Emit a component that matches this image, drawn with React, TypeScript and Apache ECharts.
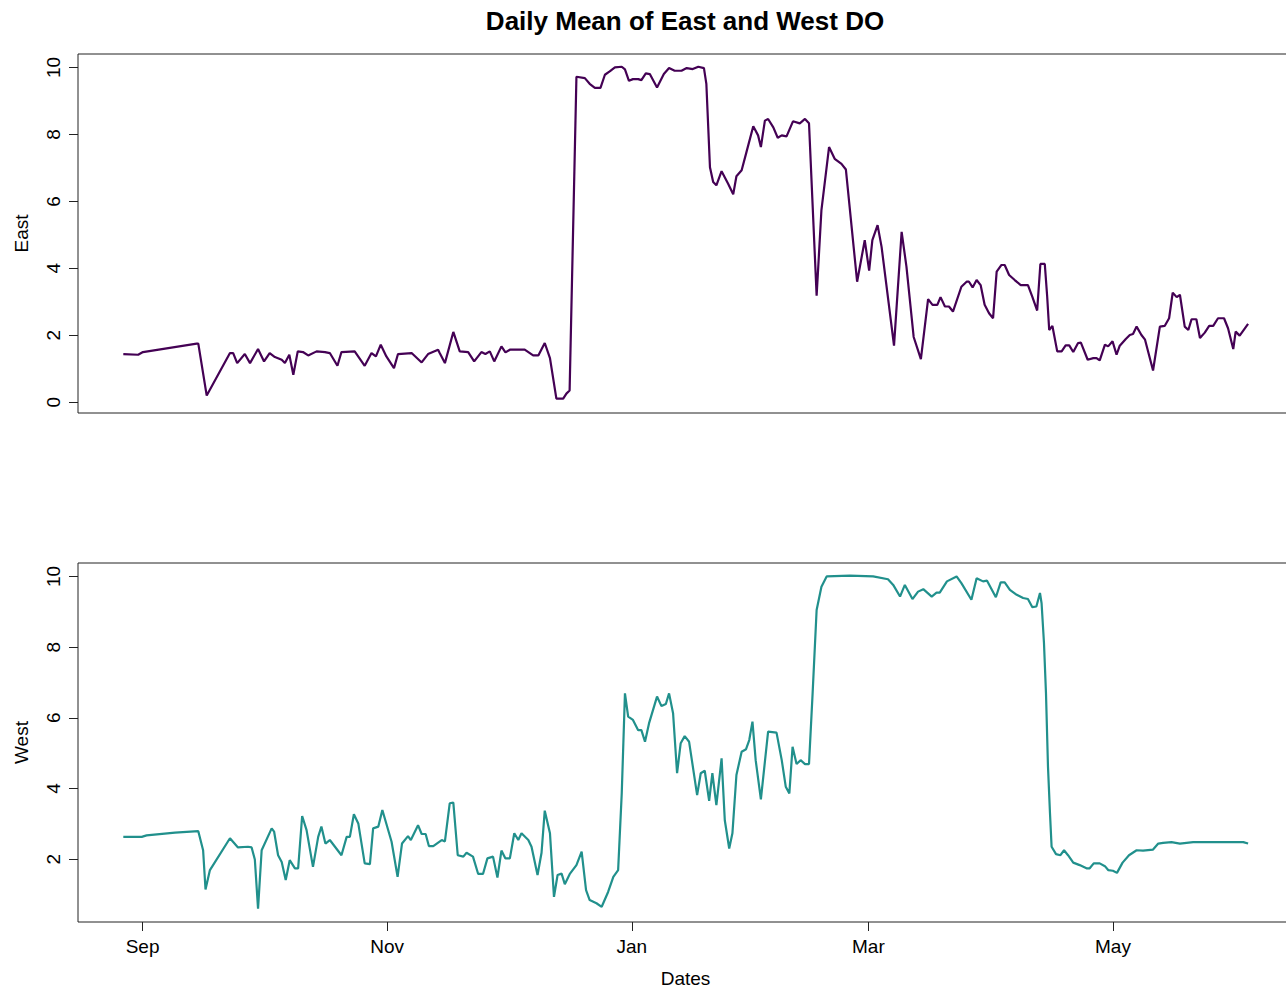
import React, { useEffect, useRef } from "react";
import * as echarts from "echarts";

// x values are days since 1 September (fractional)
const monthTickDays = [0, 61, 122, 181, 242];
const monthTickLabels = ["Sep", "Nov", "Jan", "Mar", "May"];
const eastTicks = [0, 2, 4, 6, 8, 10];
const westTicks = [2, 4, 6, 8, 10];

const eastDays = [
  -4.8, -1.1, 0.1, 13.5, 13.9, 16.0, 21.8, 22.6, 23.6, 25.5,
  26.8, 28.8, 30.3, 31.7, 33.0, 34.7, 35.5, 36.6, 37.6, 38.7,
  40.0, 41.3, 43.4, 45.5, 46.7, 48.6, 49.6, 52.9, 55.4, 57.1,
  58.2, 59.4, 60.8, 62.7, 63.7, 67.1, 69.6, 71.2, 73.7, 74.1,
  75.4, 77.5, 79.1, 81.2, 82.7, 84.5, 85.5, 86.6, 87.7, 89.5,
  90.5, 91.6, 95.3, 97.4, 98.7, 100.3, 101.6, 103.2, 104.9, 105.7,
  106.5, 108.2, 110.3, 111.5, 112.8, 114.2, 115.3, 116.5, 117.8, 119.5,
  120.3, 121.3, 122.3, 123.6, 124.4, 125.5, 126.5, 128.3, 130.0, 131.3,
  132.7, 134.4, 135.7, 137.2, 138.6, 140.0, 140.6, 141.5, 142.3, 143.1,
  144.4, 146.0, 147.3, 148.1, 149.4, 150.6, 152.3, 153.5, 154.2, 155.2,
  156.0, 157.3, 158.4, 159.4, 160.6, 162.2, 163.9, 165.2, 166.2, 168.1,
  169.3, 171.2, 172.6, 174.3, 175.4, 178.2, 180.1, 181.2, 182.0, 183.3,
  184.3, 187.4, 189.3, 190.5, 192.3, 194.1, 195.9, 197.0, 198.2, 199.0,
  200.1, 201.1, 202.1, 204.2, 205.5, 206.1, 207.0, 208.0, 209.0, 210.0,
  211.1, 212.1, 213.0, 214.2, 215.0, 216.1, 217.5, 219.0, 220.8, 221.9,
  223.1, 223.9, 225.0, 225.6, 226.1, 226.9, 228.1, 229.2, 230.2, 231.1,
  232.1, 233.3, 234.0, 235.7, 237.1, 237.9, 238.7, 240.0, 240.8, 241.9,
  242.9, 243.7, 245.2, 246.2, 247.0, 247.9, 249.1, 250.0, 252.0, 253.7,
  254.9, 256.0, 256.9, 257.9, 258.7, 259.9, 260.8, 261.6, 262.8, 263.7,
  264.9, 266.0, 267.0, 268.2, 269.7, 270.7, 272.0, 272.6, 273.6, 275.7,
];

const eastDO = [
  1.44, 1.42, 1.5, 1.75, 1.75, 0.2, 1.47, 1.47, 1.17, 1.44,
  1.17, 1.59, 1.22, 1.47, 1.35, 1.27, 1.17, 1.42, 0.82, 1.52,
  1.5, 1.4, 1.52, 1.5, 1.47, 1.09, 1.5, 1.52, 1.09, 1.47,
  1.37, 1.72, 1.37, 1.02, 1.44, 1.47, 1.19, 1.44, 1.57, 1.47,
  1.17, 2.1, 1.52, 1.5, 1.22, 1.5, 1.44, 1.52, 1.22, 1.67,
  1.49, 1.57, 1.57, 1.4, 1.4, 1.77, 1.32, 0.11, 0.11, 0.26,
  0.35, 9.72, 9.68, 9.51, 9.39, 9.39, 9.78, 9.88, 10.0, 10.02,
  9.94, 9.6, 9.65, 9.65, 9.62, 9.82, 9.8, 9.4, 9.8, 9.98,
  9.9, 9.9, 9.98, 9.95, 10.02, 9.98, 9.51, 7.02, 6.58, 6.48,
  6.9, 6.53, 6.21, 6.75, 6.93, 7.47, 8.24, 7.97, 7.62, 8.41,
  8.46, 8.21, 7.9, 7.97, 7.94, 8.39, 8.33, 8.46, 8.33, 3.18,
  5.74, 7.62, 7.27, 7.12, 6.95, 3.6, 4.84, 3.93, 4.84, 5.29,
  4.64, 1.69, 5.09, 4.05, 1.95, 1.29, 3.08, 2.91, 2.91, 3.14,
  2.86, 2.86, 2.71, 3.45, 3.6, 3.6, 3.43, 3.65, 3.5, 2.91,
  2.66, 2.51, 3.9, 4.1, 4.1, 3.8, 3.65, 3.5, 3.5, 3.15,
  2.74, 4.13, 4.13, 3.15, 2.16, 2.28, 1.52, 1.52, 1.7, 1.7,
  1.5, 1.77, 1.78, 1.27, 1.32, 1.32, 1.25, 1.72, 1.67, 1.82,
  1.42, 1.69, 1.89, 2.01, 2.04, 2.26, 2.01, 1.87, 0.95, 2.26,
  2.28, 2.51, 3.27, 3.14, 3.21, 2.26, 2.16, 2.48, 2.48, 1.92,
  2.08, 2.28, 2.28, 2.51, 2.51, 2.21, 1.59, 2.11, 1.99, 2.34,
];

const westDays = [
  -4.8, -0.2, 1.0, 8.1, 13.9, 15.1, 15.7, 16.8, 21.8, 23.8,
  26.3, 27.2, 28.0, 28.8, 29.7, 32.2, 32.8, 33.8, 34.7, 35.7,
  36.7, 38.0, 38.8, 39.8, 40.9, 42.5, 43.8, 44.6, 45.6, 46.7,
  49.6, 50.9, 51.7, 52.7, 53.8, 55.4, 56.7, 57.5, 58.8, 59.8,
  62.1, 63.6, 64.7, 66.2, 66.9, 68.7, 69.6, 70.6, 71.4, 72.5,
  74.6, 75.4, 76.6, 77.5, 78.6, 80.0, 80.8, 82.4, 83.7, 84.9,
  86.0, 87.4, 88.5, 89.5, 90.5, 91.6, 92.7, 93.7, 94.5, 96.2,
  97.0, 98.5, 99.5, 100.3, 101.6, 102.6, 103.5, 104.5, 105.3, 106.6,
  108.2, 109.5, 110.6, 111.5, 113.2, 114.5, 116.1, 117.4, 118.6, 119.5,
  120.3, 121.1, 122.3, 123.6, 124.4, 125.3, 126.3, 128.3, 129.4, 130.5,
  131.3, 132.3, 133.3, 134.2, 135.2, 136.3, 138.3, 139.2, 140.2, 141.3,
  142.1, 143.1, 144.4, 145.2, 146.3, 147.1, 148.1, 149.4, 150.5, 151.3,
  152.1, 152.9, 154.2, 156.0, 158.1, 159.4, 160.4, 161.3, 162.1, 163.1,
  164.1, 165.2, 166.2, 167.1, 168.1, 169.3, 170.6, 176.4, 182.2, 185.9,
  187.2, 188.9, 190.1, 192.0, 193.4, 194.7, 196.8, 198.0, 198.8, 200.6,
  203.0, 204.2, 206.7, 208.0, 209.6, 210.6, 212.8, 214.0, 215.0, 216.3,
  218.0, 219.6, 220.8, 221.9, 222.9, 223.8, 224.2, 224.8, 225.3, 225.8,
  226.3, 226.7, 227.8, 228.9, 229.8, 230.8, 232.1, 233.7, 235.4, 236.2,
  237.2, 238.7, 240.0, 240.8, 242.0, 243.0, 244.4, 246.0, 247.9, 249.5,
  252.0, 253.3, 254.5, 256.6, 258.7, 262.0, 269.5, 274.5, 275.7,
];

const westDO = [
  2.63, 2.63, 2.67, 2.75, 2.79, 2.25, 1.14, 1.69, 2.59, 2.33,
  2.35, 2.33, 1.99, 0.6, 2.25, 2.87, 2.78, 2.11, 1.92, 1.41,
  1.97, 1.74, 1.74, 3.22, 2.82, 1.78, 2.63, 2.92, 2.44, 2.54,
  2.11, 2.63, 2.63, 3.27, 3.01, 1.88, 1.86, 2.87, 2.92, 3.39,
  2.49, 1.5, 2.44, 2.65, 2.54, 2.96, 2.71, 2.71, 2.37, 2.37,
  2.54, 2.5, 3.58, 3.6, 2.11, 2.07, 2.18, 2.07, 1.58, 1.58,
  2.02, 2.07, 1.48, 2.24, 2.02, 2.02, 2.73, 2.54, 2.73, 2.54,
  2.35, 1.55, 2.18, 3.37, 2.73, 0.93, 1.55, 1.59, 1.29, 1.59,
  1.83, 2.21, 1.12, 0.84, 0.75, 0.65, 1.07, 1.5, 1.69, 3.86,
  6.69, 6.03, 5.94, 5.65, 5.65, 5.32, 5.84, 6.6, 6.33, 6.39,
  6.69, 6.13, 4.43, 5.28, 5.48, 5.32, 3.81, 4.43, 4.5, 3.65,
  4.43, 3.53, 4.85, 3.1, 2.3, 2.73, 4.38, 5.04, 5.11, 5.37,
  5.89, 4.8, 3.69, 5.61, 5.58, 4.8, 4.05, 3.86, 5.18, 4.69,
  4.8, 4.69, 4.69, 6.69, 9.05, 9.71, 10.0, 10.02, 10.0, 9.92,
  9.76, 9.43, 9.76, 9.36, 9.57, 9.64, 9.43, 9.54, 9.54, 9.86,
  10.0, 9.81, 9.34, 9.95, 9.86, 9.88, 9.41, 9.83, 9.83, 9.62,
  9.48, 9.39, 9.36, 9.13, 9.15, 9.53, 9.24, 8.11, 6.69, 4.61,
  3.29, 2.35, 2.14, 2.11, 2.25, 2.11, 1.9, 1.83, 1.74, 1.74,
  1.88, 1.88, 1.8, 1.69, 1.67, 1.61, 1.9, 2.11, 2.25, 2.24,
  2.27, 2.44, 2.46, 2.48, 2.44, 2.48, 2.48, 2.48, 2.44,
];

const FONT = "'Liberation Sans', Arial, Helvetica, sans-serif";

export default function App() {
  const ref = useRef<HTMLDivElement>(null);

  useEffect(() => {
    if (!ref.current) return;
    const chart = echarts.init(ref.current, null, { renderer: "svg" });
    const xMin = -16.1;
    const xMax = 286.9;
    const fmtMonth = (v: number) => {
      const i = monthTickDays.indexOf(Math.round(v));
      return i >= 0 ? monthTickLabels[i] : "";
    };
    const textBase = { fontFamily: FONT, fontSize: 19, color: "#000" };
    const frame = {
      show: true,
      borderColor: "#222",
      borderWidth: 1,
      backgroundColor: "transparent",
    };
    const yAxisCommon = (ticks: number[]) => ({
      type: "value",
      splitLine: { show: false },
      axisLine: { show: false, onZero: false },
      axisTick: {
        show: true,
        length: 9,
        customValues: ticks,
        lineStyle: { color: "#222", width: 1 },
      },
      axisLabel: {
        customValues: ticks,
        rotate: 90,
        margin: 15,
        ...textBase,
      },
      nameLocation: "middle",
      nameGap: 47,
      nameTextStyle: { ...textBase },
    });

    chart.setOption({
      animation: false,
      backgroundColor: "#ffffff",
      title: {
        text: "Daily Mean of East and West DO",
        left: 685,
        top: 8,
        padding: 0,
        textAlign: "center",
        textStyle: {
          fontFamily: FONT,
          fontWeight: "bold",
          fontSize: 26,
          color: "#000",
        },
      },
      grid: [
        { left: 78, top: 54, width: 1215, height: 359, ...frame },
        { left: 78, top: 563, width: 1215, height: 359, ...frame },
      ],
      xAxis: [
        {
          type: "value",
          gridIndex: 0,
          min: xMin,
          max: xMax,
          show: false,
          axisLine: { onZero: false },
          splitLine: { show: false },
        },
        {
          type: "value",
          gridIndex: 1,
          min: xMin,
          max: xMax,
          splitLine: { show: false },
          axisLine: { show: false, onZero: false },
          axisTick: {
            show: true,
            length: 9,
            customValues: monthTickDays,
            lineStyle: { color: "#222", width: 1 },
          },
          axisLabel: {
            customValues: monthTickDays,
            formatter: fmtMonth,
            margin: 15,
            ...textBase,
          },
          name: "Dates",
          nameLocation: "middle",
          nameGap: 47,
          nameTextStyle: { ...textBase },
        },
      ],
      yAxis: [
        { ...yAxisCommon(eastTicks), gridIndex: 0, min: -0.32, max: 10.4, name: "East" },
        { ...yAxisCommon(westTicks), gridIndex: 1, min: 0.22, max: 10.38, name: "West" },
      ],
      series: [
        {
          type: "line",
          name: "East",
          xAxisIndex: 0,
          yAxisIndex: 0,
          data: eastDays.map((d, i) => [d, eastDO[i]]),
          showSymbol: false,
          symbol: "none",
          lineStyle: { color: "#440154", width: 2.2 },
        },
        {
          type: "line",
          name: "West",
          xAxisIndex: 1,
          yAxisIndex: 1,
          data: westDays.map((d, i) => [d, westDO[i]]),
          showSymbol: false,
          symbol: "none",
          lineStyle: { color: "#21908C", width: 2.2 },
        },
      ],
    });

    return () => chart.dispose();
  }, []);

  return (
    <div
      style={{
        position: "absolute",
        left: 0,
        top: 0,
        width: 1286,
        height: 989,
        overflow: "hidden",
        background: "#fff",
      }}
    >
      <div ref={ref} style={{ width: 1300, height: 989 }} />
    </div>
  );
}
